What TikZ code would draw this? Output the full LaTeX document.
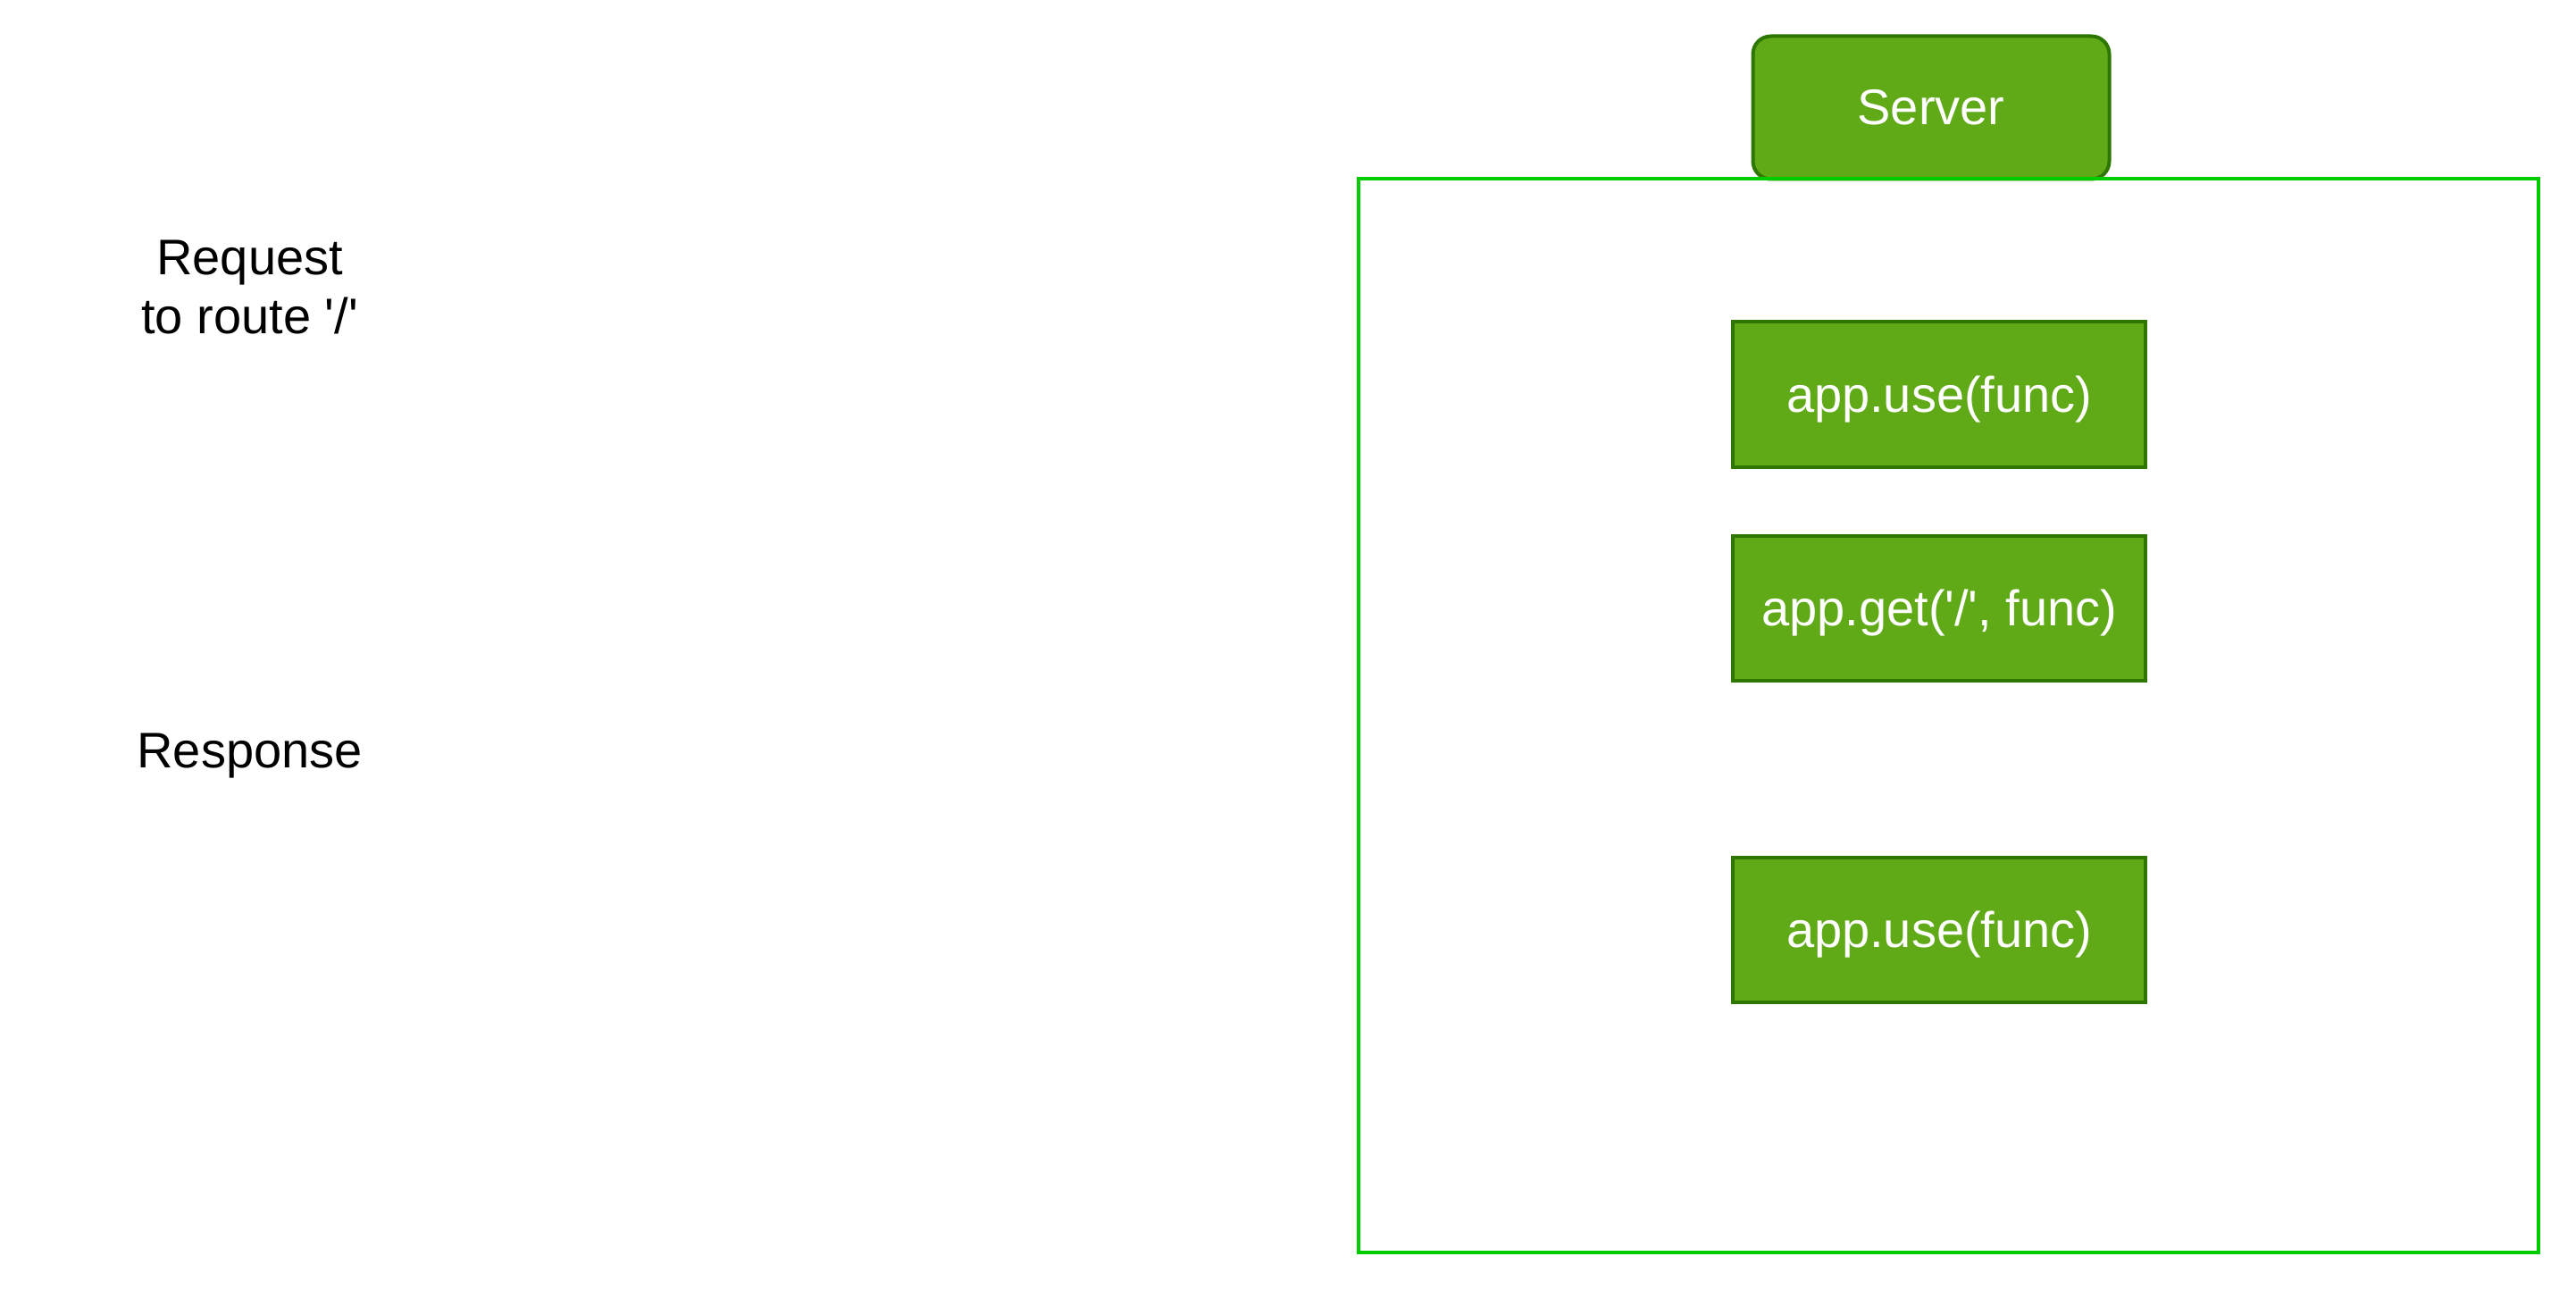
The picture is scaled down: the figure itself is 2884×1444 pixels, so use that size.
\documentclass[tikz,border=0pt]{standalone}
\usepackage{fontspec}
\setmainfont{Liberation Sans}
\definecolor{gfill}{HTML}{60A917}
\definecolor{gline}{HTML}{2D7600}
\definecolor{cline}{HTML}{00CC00}
\newcommand\lowtxt[1]{\raisebox{-2.7pt}[\height][\depth]{#1}}
\newcommand\sq{\textquotesingle}
\begin{document}
\begin{tikzpicture}[x=0.5pt,y=-0.5pt,
  fnbox/.style={draw=gline, fill=gfill, line width=2pt, text=white, font=\fontsize{28}{33}\selectfont,
    minimum width=231pt, minimum height=81pt, inner sep=0pt, anchor=center},
  srvbox/.style={fnbox, rounded corners=10pt, minimum width=199.5pt, minimum height=80pt},
  lbl/.style={text=black, font=\fontsize{28}{33}\selectfont, align=center, inner sep=0pt}]
  \useasboundingbox (0,0) rectangle (2884,1444);
  \fill[white] (0,0) rectangle (2884,1444);
  \node[srvbox] (server) at (2162,120.5) {Server};
  \node[draw=cline, line width=2pt, minimum width=660.5pt, minimum height=600.5pt, inner sep=0pt] (cont) at (2181.4,801) {};
  \node[fnbox] (use1) at (2171.2,441.5) {\lowtxt{app.use(func)}};
  \node[fnbox] (get) at (2171.2,680.5) {\lowtxt{app.get(\sq/\sq, func)}};
  \node[fnbox] (use2) at (2171.2,1041) {\lowtxt{app.use(func)}};
  \node[lbl] (req) at (279.6,322) {Request\\to route \sq/\sq};
  \node[lbl] (resp) at (279.6,846) {Response};
\end{tikzpicture}
\end{document}
